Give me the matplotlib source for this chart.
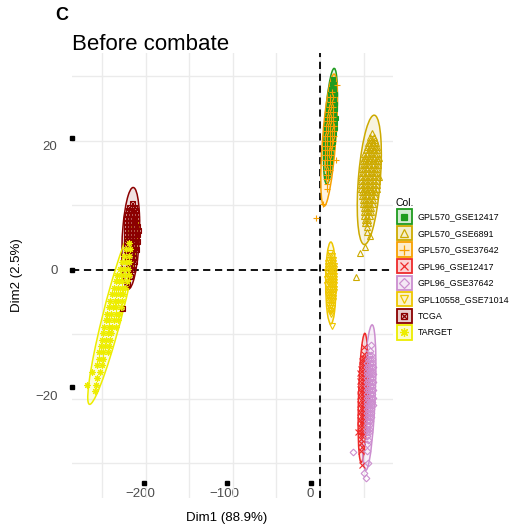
import numpy as np
import matplotlib
matplotlib.use("Agg")
import matplotlib.pyplot as plt
from matplotlib.patches import Ellipse, Rectangle
from matplotlib.lines import Line2D
from matplotlib.legend_handler import HandlerBase

plt.rcParams["font.family"] = ["Liberation Sans", "DejaVu Sans"]

# ---- data: rows of (Dim2, [Dim1 values]) per group ----
GROUPS = ["GPL570_GSE12417", "GPL570_GSE6891", "GPL570_GSE37642", "GPL96_GSE12417",
          "GPL96_GSE37642", "GPL10558_GSE71014", "TCGA", "TARGET"]
COLORS = ["#1E9B1E", "#CDAA00", "#F7A000", "#EE2A2A",
          "#CC8ECF", "#EEC600", "#8B0000", "#EDED00"]

GSE12417_570 = [(29.5, [15]), (28.75, [14, 16]), (28.0, [13, 16]), (27.25, [12, 14.5, 17]),
                (26.5, [11.5, 14, 16.5]), (25.75, [10, 12.5, 15, 17.5]),
                (25.0, [9.5, 12, 14.5, 17]), (24.25, [9, 11.5, 14, 16.5]),
                (23.5, [8, 10.5, 13, 15.5, 18]), (22.75, [7.5, 10, 12.5, 15, 17.5]),
                (22.0, [7, 9.5, 12, 14.5, 17]), (21.25, [7, 9.5, 12, 14.5, 16.5]),
                (20.5, [7.5, 10, 12.5, 15]), (19.75, [7, 9.5, 12, 14.5]),
                (19.0, [6.5, 9, 11.5, 14]), (18.25, [7, 9.5, 12]), (17.5, [7, 9.5, 12]),
                (16.75, [8, 11]), (16.0, [8, 10.5]), (15.25, [9]), (14.5, [8.5])]
GSE6891_570 = [(21.2, [60]), (20.6, [58, 62]), (20.1, [57, 60, 63]), (19.6, [55, 58, 61, 64]),
               (19.1, [54, 57, 60, 63, 66]), (18.6, [53, 56, 59, 62, 65]),
               (18.0, [51, 54, 57, 60, 63, 66]), (17.4, [50, 53, 56, 59, 62, 65, 68]),
               (16.8, [49, 52, 55, 58, 61, 64, 67]), (16.2, [49, 52, 55, 58, 61, 64, 67]),
               (15.6, [48, 51, 54, 57, 60, 63, 66]), (15.0, [48, 51, 54, 57, 60, 63, 66]),
               (14.4, [47, 50, 53, 56, 59, 62, 65, 68]), (13.8, [47, 50, 53, 56, 59, 62, 65]),
               (13.2, [47, 50, 53, 56, 59, 62, 65]), (12.6, [47, 50, 53, 56, 59, 62, 65]),
               (12.0, [48, 51, 54, 57, 60, 63]), (11.4, [48, 51, 54, 57, 60, 63]),
               (10.8, [49, 52, 55, 58, 61]), (10.2, [49, 52, 55, 58, 61]),
               (9.6, [50, 53, 56, 59]), (9.0, [50, 53, 56, 59]), (8.4, [51, 54, 57]),
               (7.8, [52, 55]), (7.2, [52, 55]), (6.6, [54]), (5.9, [54]), (5.3, [57.5]),
               (3.6, [51.7]), (2.6, [46]), (-1.1, [41.4])]
GSE37642_570 = [(28.7, [20]), (27.5, [13.5]), (26.75, [12, 14.5]), (26.0, [11.5, 14]),
                (25.25, [10, 12.5, 15]), (24.5, [9.5, 12, 14.5]), (23.75, [8, 10.5, 13, 15.5]),
                (23.0, [7.5, 10, 12.5, 15]), (22.25, [7, 9.5, 12, 14.5, 16.5]),
                (21.5, [6.5, 9, 11.5, 14, 16]), (20.75, [6, 8.5, 11, 13.5, 16]),
                (20.0, [6, 8.5, 11, 13.5, 15.5]), (19.25, [6, 8.5, 11, 13.5]),
                (18.5, [5.5, 8, 10.5, 13]), (17.75, [5.5, 8, 10.5, 13]), (17.0, [6, 8.5, 11, 18]),
                (16.25, [6, 8.5, 11]), (15.5, [6.5, 9, 11]), (14.75, [7, 9.5]), (14.0, [7, 9.5]),
                (13.25, [8]), (12.5, [7.5]), (10.2, [3.4]), (8.1, [-4.6])]
GSE12417_96 = [(-11.9, [50.6]), (-13.0, [50]), (-13.6, [49, 51.5]), (-14.2, [48.5, 51]),
               (-14.8, [48, 50.5, 53]), (-15.4, [47.5, 50, 52.5]), (-16.0, [46.5, 49, 51.5, 53.5]),
               (-16.6, [47.5, 50, 52.5]), (-17.2, [46.5, 49, 51.5, 53.5]), (-17.8, [47.5, 50, 52.5]),
               (-18.4, [46.5, 49, 51.5, 53.5]), (-19.0, [47.5, 50, 52.5]),
               (-19.6, [46.5, 49, 51.5, 53.5]), (-20.2, [47.5, 50, 52.5]),
               (-20.8, [46.5, 49, 51.5, 53.5]), (-21.4, [47, 49.5, 52]), (-22.0, [46.5, 49, 51.5]),
               (-22.6, [47, 49.5, 52]), (-23.2, [46.5, 49, 51.5]), (-23.8, [47, 49.5]),
               (-24.4, [46.5, 49]), (-25.1, [44, 47, 49.5]), (-25.6, [47, 49]), (-26.2, [47.5]),
               (-26.8, [47]), (-27.4, [48]), (-28.0, [47.5]), (-30.2, [48])]
GSE37642_96 = [(-11.6, [58.6]), (-12.6, [57.5]), (-13.2, [56, 58.5]), (-13.8, [55, 57.5, 60]),
               (-14.4, [54.5, 57, 59.5]), (-15.0, [53.5, 56, 58.5, 61]), (-15.6, [54.5, 57, 59.5]),
               (-16.2, [53.5, 56, 58.5, 61]), (-16.8, [54.5, 57, 59.5]),
               (-17.4, [53.5, 56, 58.5, 61]), (-18.0, [54.5, 57, 59.5]),
               (-18.6, [53.5, 56, 58.5, 61]), (-19.2, [54.5, 57, 59.5]),
               (-19.8, [53.5, 56, 58.5, 61]), (-20.4, [54.5, 57, 59.5]),
               (-21.0, [53.5, 56, 58.5, 60.5]), (-21.6, [54, 56.5, 59]), (-22.2, [53.5, 56, 58.5]),
               (-22.8, [54, 56.5, 59]), (-23.4, [53.5, 56, 58]), (-24.0, [54, 56.5]),
               (-24.6, [53.5, 56]), (-25.2, [54, 56.5]), (-25.8, [54]), (-26.4, [55]),
               (-27.0, [54.5]), (-28.2, [38]), (-28.0, [54]), (-30.0, [55]), (-31.5, [50.6]),
               (-32.2, [53])]
GSE71014_10558 = [(2.6, [12]), (2.1, [11, 14]), (1.6, [10, 12.5, 15]), (1.1, [9.5, 12, 14.5]),
                  (0.6, [9, 11.5, 14, 16.5]), (0.1, [9, 11.5, 14, 16.5]),
                  (-0.4, [8.5, 11, 13.5, 16]), (-0.9, [9, 11.5, 14, 16.5]),
                  (-1.4, [8.5, 11, 13.5, 16]), (-1.9, [9, 11.5, 14, 16.5]),
                  (-2.4, [8.5, 11, 13.5, 16]), (-2.9, [9, 11.5, 14, 16.5]),
                  (-3.4, [9, 11.5, 14, 16]), (-3.9, [9.5, 12, 14.5]), (-4.4, [10, 12.5, 15]),
                  (-4.9, [10, 12.5, 15]), (-5.4, [10.5, 13]), (-5.9, [11, 13.5]),
                  (-6.4, [11.5, 13]), (-6.9, [12.5]), (-8.7, [13.8])]
TCGA = [(10.4, [-216]), (9.8, [-219, -214]), (9.2, [-221, -217, -213]),
        (8.6, [-222, -218.5, -215, -211]), (8.0, [-223, -219.5, -216, -212]),
        (7.4, [-223, -219.5, -216, -212]), (6.8, [-223.5, -220, -216.5, -213, -210]),
        (6.2, [-223, -219.5, -216, -212.5, -209.5]), (5.6, [-223.5, -220, -216.5, -213, -210]),
        (5.0, [-223, -219.5, -216, -212.5]), (4.4, [-223.5, -220, -216.5, -213, -210]),
        (3.8, [-223, -219.5, -216, -212.5]), (3.2, [-222.5, -219, -215.5, -212]),
        (2.6, [-222, -218.5, -215]), (2.0, [-222, -218.5, -215]), (1.4, [-221, -217.5, -214]),
        (0.8, [-220.5, -217]), (0.2, [-220, -216.5]), (-0.4, [-219]), (-1.0, [-218]),
        (-2.2, [-222]), (-5.9, [-228])]
TARGET = [(4.2, [-219]), (3.2, [-223, -218]), (2.2, [-225, -220]), (1.2, [-228, -223, -219]),
          (0.2, [-230, -225, -221]), (-0.8, [-233, -229, -224, -219]),
          (-1.8, [-235, -231, -227, -222]), (-2.8, [-237, -232, -228, -224]),
          (-3.8, [-239, -235, -230, -226]), (-4.8, [-241, -236, -232, -228]),
          (-5.8, [-243, -238, -234, -229]), (-6.8, [-245, -240, -235, -231]),
          (-7.8, [-246, -242, -237, -232]), (-8.8, [-248, -243, -239, -234]),
          (-9.8, [-249, -244, -240]), (-10.8, [-251, -246, -241]), (-11.8, [-252, -247, -242]),
          (-12.8, [-254, -249, -244]), (-13.8, [-254, -249]), (-14.8, [-256, -250]),
          (-15.8, [-262, -253]), (-16.8, [-256]), (-17.8, [-268, -257]), (-18.8, [-258])]
DATA = [GSE12417_570, GSE6891_570, GSE37642_570, GSE12417_96,
        GSE37642_96, GSE71014_10558, TCGA, TARGET]

# ggplot-like shapes: 15, 2, 3, 4, 5, 6, 7, 8
MARKERS = [[("s", True, 3.4)], [("^", False, 4.2)], [("+", False, 5.0)], [("x", False, 4.0)],
           [("D", False, 3.4)], [("v", False, 4.2)], [("s", False, 3.6), ("x", False, 3.6)],
           [((8, 2, 0), False, 4.6)]]

GRID_X = [-250, -200, -150, -100, -50, 0, 50]
GRID_Y = [-30, -20, -10, 0, 10, 20, 30]
XTICK_POS = [-206, -110, -11.5]      # labels sit slightly off the grid in the source
XTICK_LAB = ["\u2212200", "\u2212100", "0"]
YTICK_POS = [19.2, 0, -19.5]
YTICK_LAB = ["20", "0", "\u221220"]


def points(rows):
    xs, ys = [], []
    for y, row in rows:
        xs += row
        ys += [y] * len(row)
    return np.array(xs, float), np.array(ys, float)


def conf_ellipse(x, y, color, level_chi2=5.991):
    cov = np.cov(x, y)
    vals, vecs = np.linalg.eigh(cov)
    order = vals.argsort()[::-1]
    vals, vecs = vals[order], vecs[:, order]
    ang = np.degrees(np.arctan2(vecs[1, 0], vecs[0, 0]))
    w, h = 2 * np.sqrt(level_chi2 * vals)
    return Ellipse((x.mean(), y.mean()), w, h, angle=ang, facecolor=color, alpha=0.12,
                   edgecolor="none", zorder=1.8), \
        Ellipse((x.mean(), y.mean()), w, h, angle=ang, facecolor="none",
                edgecolor=color, lw=1.1, zorder=1.9)


def draw_marks(ax, x, y, color, spec, zorder):
    for m, filled, ms in spec:
        ax.plot(x, y, ls="none", marker=m, ms=ms, color=color,
                mfc=color if filled else "none", mec=color, mew=0.8, zorder=zorder)


class KeyHandler(HandlerBase):
    def __init__(self, color, spec):
        super().__init__()
        self.color, self.spec = color, spec

    def create_artists(self, legend, orig, xd, yd, w, h, fs, trans):
        x0, y0 = -xd, -yd
        rect = Rectangle((x0 + 0.5, y0 + 0.5), w - 1, h - 1, facecolor=self.color + "33",
                         edgecolor=self.color, lw=1.3, transform=trans)
        arts = [rect]
        for m, filled, ms in self.spec:
            arts.append(Line2D([x0 + w / 2], [y0 + h / 2], ls="none", marker=m, ms=ms * 1.35,
                               color=self.color, mfc=self.color if filled else "none",
                               mec=self.color, mew=0.9, transform=trans))
        return arts


fig = plt.figure(figsize=(5.10, 5.31), dpi=100)
ax = fig.add_axes([72 / 510, 33 / 531, 321 / 510, 445 / 531])
ax.set_xlim(-285, 83.9)
ax.set_ylim(-35.35, 33.6)
for s in ax.spines.values():
    s.set_visible(False)

ax.set_xticks(GRID_X, minor=True)
ax.set_yticks(GRID_Y, minor=True)
ax.grid(which="minor", color="#EBEBEB", lw=1.0)
ax.set_axisbelow(True)
ax.set_xticks(XTICK_POS, XTICK_LAB)
ax.set_yticks(YTICK_POS, YTICK_LAB)
ax.tick_params(which="both", length=0)
ax.tick_params(axis="x", pad=-7.5, labelsize=9.5, labelcolor="#4D4D4D")
ax.tick_params(axis="y", pad=10.5, labelsize=9.5, labelcolor="#4D4D4D")

dash = (0, (4, 2.6))
ax.axvline(0, color="black", ls=dash, lw=1.3, zorder=1.5)
ax.axhline(0, color="black", ls=dash, lw=1.3, zorder=1.5)

pts = [points(r) for r in DATA]
for i, (x, y) in enumerate(pts):
    fill, edge = conf_ellipse(x, y, COLORS[i])
    ax.add_patch(fill)
    ax.add_patch(edge)
for i, (x, y) in enumerate(pts):
    draw_marks(ax, x, y, COLORS[i], MARKERS[i], zorder=2 + i * 0.01)

# small black tick stubs as in the source
ax.plot([-202, -107, -10.3], [-33.0] * 3, ls="none", marker="s", ms=2.2, color="black",
        clip_on=False, zorder=5)
ax.plot([-284.5] * 3, [20.5, 0, -18.1], ls="none", marker="s", ms=2.2, color="black",
        clip_on=False, zorder=5)

handles = [Line2D([], []) for _ in GROUPS]
hmap = {h: KeyHandler(COLORS[i], MARKERS[i]) for i, h in enumerate(handles)}
leg = ax.legend(handles, GROUPS, handler_map=hmap, loc="upper left",
                bbox_to_anchor=(396 / 510, 1 - 198 / 531), bbox_transform=fig.transFigure,
                frameon=False, fontsize=6.4, title="Col.", title_fontsize=7.5,
                handlelength=1.85, handleheight=2.36, labelspacing=0.08,
                handletextpad=0.62, borderpad=0, borderaxespad=0)
leg._legend_box.align = "left"

fig.text(72 / 510, 1 - 44 / 531, "Before combate", fontsize=16, va="center", ha="left")
fig.text(55 / 510, 1 - 16 / 531, "C", fontsize=13, fontweight="bold", va="center", ha="left")
fig.text(227 / 510, 1 - 518 / 531, "Dim1 (88.9%)", fontsize=9.5, ha="center", va="center")
fig.text(17 / 510, 1 - 275 / 531, "Dim2 (2.5%)", fontsize=9.5, ha="center", va="center",
         rotation=90)

fig.savefig("out.png", dpi=100)
